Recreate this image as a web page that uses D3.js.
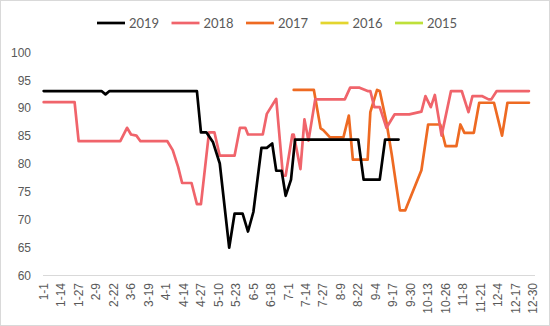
<!DOCTYPE html>
<html><head><meta charset="utf-8">
<script src="https://cdn.jsdelivr.net/npm/d3@7/dist/d3.min.js"></script>
<style>
html,body{margin:0;padding:0;background:#fff;}
svg{display:block;font-family:Lato,"Open Sans",sans-serif;}
</style></head>
<body><svg id="c" width="550" height="326"></svg>
<script>
// ---- data ----
const seriesNames = ["2019","2018","2017","2016","2015"];
const seriesColors = ["#000000","#F0646B","#EE6A22","#E3D52E","#BEE03A"];

const tickLabels = ["1-1","1-14","1-27","2-9","2-22","3-6","3-19","4-1","4-14","4-27","5-10","5-23","6-5","6-18","7-1","7-14","7-27","8-9","8-22","9-4","9-17","9-30","10-13","10-26","11-8","11-21","12-4","12-17","12-30"];
const yTicks = [60,65,70,75,80,85,90,95,100];

const dates2019  = ["1-1","2-13","2-16","2-19","4-24","4-27","5-1","5-6","5-11","5-18","5-22","5-28","6-1","6-5","6-11","6-15","6-19","6-22","6-26","6-29","7-3","7-6","8-22","8-26","9-7","9-11","9-21"];
const values2019 = [93,93,92.4,93,93,85.6,85.6,83.8,80,64.9,71,71,67.8,71.3,82.8,82.8,83.6,78.7,78.7,74.2,77.1,84.3,84.3,77.1,77.1,84.3,84.3];

const dates2018  = ["1-1","1-24","1-27","2-27","3-3","3-6","3-10","3-13","4-2","4-6","4-10","4-13","4-20","4-24","4-27","5-3","5-7","5-11","5-22","5-26","5-30","6-1","6-12","6-15","6-22","6-27","6-29","7-4","7-5","7-10","7-13","7-16","7-21","8-12","8-16","8-23","8-29","8-31","9-3","9-7","9-12","9-18","9-29","10-8","10-11","10-15","10-18","10-23","10-30","11-7","11-12","11-15","11-22","11-27","11-29","12-3","12-27"];
const values2018 = [91,91,84,84,86.4,85.2,85,84,84,82.4,79.4,76.5,76.5,72.7,72.7,85.6,85.6,81.4,81.4,86.4,86.4,85.2,85.2,88.9,91.6,77.8,77.8,85.2,85.2,79,87.9,84.1,91.5,91.5,93.6,93.6,93,93,90.1,90.1,86.4,88.8,88.8,89.3,92.1,90.1,92.3,85,93,93,89.2,92.1,92.1,91.5,91.5,93,93];

const dates2017  = ["7-5","7-20","7-25","7-27","8-1","8-11","8-15","8-18","8-29","8-31","9-5","9-7","9-12","9-16","9-22","9-26","10-8","10-13","10-22","10-26","11-3","11-6","11-9","11-16","11-20","12-1","12-7","12-11","12-27"];
const values2017 = [93.2,93.2,86.3,86,84.7,84.7,88.6,80.7,80.7,89.2,93.2,93,87.4,81.5,71.6,71.6,78.8,87,87,83.1,83.1,87,85.5,85.5,90.9,90.9,85,90.9,90.9];

const dates2016 = [], values2016 = [];
const dates2015 = [], values2015 = [];

// ---- chart ----
const svg = d3.select("#c");
const W = 550, H = 326;
svg.append("rect").attr("x",0.5).attr("y",0.5).attr("width",W-1).attr("height",H-1)
  .attr("fill","#fff").attr("stroke","#D9D9D9");

const fmt = d3.timeFormat("%-m-%-d");
const categories = d3.timeDays(new Date(2020,0,1), new Date(2021,0,1)).map(fmt);

const x = d3.scaleBand().domain(categories).range([43,535]).padding(0);
const xc = d => x(d) + x.bandwidth()/2;
const y = d3.scaleLinear().domain([60,100]).range([275,52]);

// baseline
svg.append("line").attr("x1",43).attr("x2",535).attr("y1",y(60)+0.5).attr("y2",y(60)+0.5)
  .attr("stroke","#D9D9D9").attr("stroke-width",1);

// y axis
const yAxis = d3.axisLeft(y).tickValues(yTicks).tickSize(0).tickPadding(0);
const gy = svg.append("g").attr("transform","translate(31,0)").call(yAxis);
gy.select(".domain").remove();
gy.selectAll("text").attr("fill","#595959").style("font-size","12px").attr("dy","0.35em");

// x axis
const xAxis = d3.axisBottom(x).tickValues(tickLabels).tickSize(0).tickPadding(0);
const gx = svg.append("g").attr("transform","translate(0,283)").call(xAxis);
gx.select(".domain").remove();
gx.selectAll("text").attr("fill","#595959").style("font-size","12px")
  .attr("transform","rotate(-90)").attr("text-anchor","end").attr("x",0).attr("y",0).attr("dy","0.35em");

// lines
const line = d3.line().x(d => xc(d[0])).y(d => y(d[1]));
const allSeries = [
  [dates2015, values2015, 4],
  [dates2016, values2016, 3],
  [dates2017, values2017, 2],
  [dates2018, values2018, 1],
  [dates2019, values2019, 0]
];
allSeries.forEach(([ds, vs, k]) => {
  if (!ds.length) return;
  const pts = ds.map((d,i) => [d, vs[i]]);
  svg.append("path").datum(pts).attr("d", line)
    .attr("fill","none").attr("stroke", seriesColors[k]).attr("stroke-width",2.7)
    .attr("stroke-linejoin","round").attr("stroke-linecap","round");
});

// legend
const lg = svg.append("g");
seriesNames.forEach((n,i) => {
  const x0 = 97 + i*74.5;
  lg.append("line").attr("x1",x0).attr("x2",x0+28).attr("y1",23).attr("y2",23)
    .attr("stroke",seriesColors[i]).attr("stroke-width",2.7);
  lg.append("text").attr("x",x0+32).attr("y",23).attr("dy","0.35em")
    .attr("fill","#595959").style("font-size","13px").text(n);
});
</script></body></html>
